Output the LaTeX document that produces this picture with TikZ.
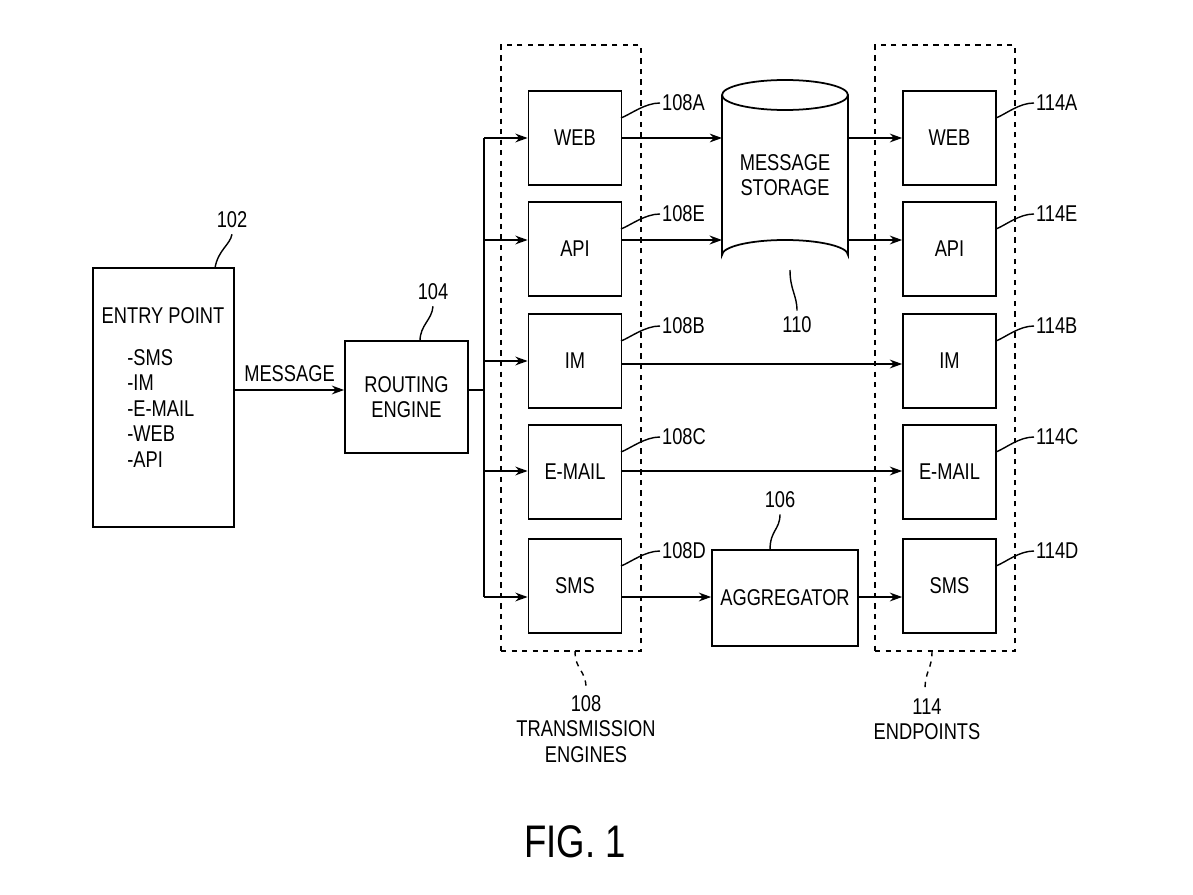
\documentclass[tikz,border=0pt]{standalone}
\usepackage{fontspec}
\setmainfont{Liberation Sans}[FakeStretch=0.8]
\usetikzlibrary{arrows.meta}
\begin{document}
\begin{tikzpicture}[x=0.02cm,y=-0.02cm,
  every node/.style={font=\fontsize{13}{14.5}\selectfont},
  box/.style={draw,line width=1pt,minimum width=1.86cm,minimum height=1.88cm,inner sep=0},
  arr/.style={-{Stealth[length=7pt,width=5pt]},line width=0.8pt},
  dbox/.style={draw,dashed,line width=0.8pt,minimum width=2.8cm,minimum height=12.12cm,inner sep=0},
  lead/.style={line width=0.8pt}]
\useasboundingbox (0,0) rectangle (1193,895);
% entry
\node[draw,line width=1pt,minimum width=2.82cm,minimum height=5.18cm] (entry) at (163.5,397.5) {};
\node (entryT) at (163,316) {ENTRY POINT};
\node[anchor=north west,align=left,inner sep=0] (list) at (127,349) {-SMS\\-IM\\-E-MAIL\\-WEB\\-API};
\node (l102) at (232,220) {102};
\coordinate (c102) at (215,268);
\draw[lead] (l102.south) .. controls (230,245) and (218,250) .. (c102);
% routing
\node[draw,line width=1pt,minimum width=2.46cm,minimum height=2.24cm,align=center] (route) at (406.5,397) {ROUTING\\ENGINE};
\node (l104) at (433,292) {104};
\coordinate (c104) at (420,341);
\draw[lead] (l104.south) .. controls (432,320) and (420,325) .. (c104);
\draw[arr] (entry.east |- 0,390) -- node[above=1pt] {MESSAGE} (route.west |- 0,390);
% dashed boxes
\node[dbox] (d108) at (571,348) {};
\node[dbox] (d114) at (945,348) {};
% transmission boxes
\foreach \n/\t/\y/\l in {tw/WEB/138/108A,ta/API/249/108E,ti/IM/361/108B,te/E-MAIL/472/108C,ts/SMS/586/108D}{
  \node[box] (\n) at (575,\y) {\t};
  \node[anchor=west,inner sep=1pt] (L\n) at (660,\y-35) {\l};
  \coordinate (C\n) at (621,\y-20);
  \draw[lead] (L\n.west) .. controls +(-15,0) and +(10,-4) .. (C\n);
}
\foreach \n/\t/\y/\l in {ew/WEB/138/114A,ea/API/249/114E,ei/IM/361/114B,ee/E-MAIL/472/114C,es/SMS/586/114D}{
  \node[box] (\n) at (949.5,\y) {\t};
  \node[anchor=west,inner sep=1pt] (L\n) at (1034,\y-35) {\l};
  \coordinate (C\n) at (996,\y-20);
  \draw[lead] (L\n.west) .. controls +(-15,0) and +(10,-4) .. (C\n);
}
% bus
\coordinate (bus) at (484,390);
\draw[line width=0.8pt] (route.east |- bus) -- (bus);
\draw[line width=0.8pt] (484,138) -- (484,597);
\draw[arr] (484,138) -- (tw.west |- 0,138);
\draw[arr] (484,240) -- (ta.west |- 0,240);
\draw[arr] (484,361) -- (ti.west |- 0,361);
\draw[arr] (484,471) -- (te.west |- 0,471);
\draw[arr] (484,597) -- (ts.west |- 0,597);
% storage
\node[minimum width=2.52cm,minimum height=3.8cm,align=center,inner sep=0] (stor) at (785,175) {MESSAGE\\STORAGE};
\draw[line width=1pt] (722,95) arc[start angle=180,end angle=360,x radius=63,y radius=-15]
  arc[start angle=0,end angle=180,x radius=63,y radius=-15] -- (722,255)
  arc[start angle=180,end angle=360,x radius=63,y radius=15] -- (848,95);
\node (l110) at (797,325) {110};
\draw[lead] (l110.north) .. controls (797,295) and (790,290) .. (790,270);
\draw[arr] (tw.east |- 0,138) -- (722,138);
\draw[arr,line width=1.3pt] (ta.east |- 0,240) -- (722,240);
\draw[arr] (848,138) -- (ew.west |- 0,138);
\draw[arr] (848,240) -- (ea.west |- 0,240);
\draw[arr] (ti.east |- 0,364) -- (ei.west |- 0,364);
\draw[arr] (te.east |- 0,471) -- (ee.west |- 0,471);
% aggregator
\node[draw,line width=1pt,minimum width=2.92cm,minimum height=1.92cm] (agg) at (785,598) {AGGREGATOR};
\node (l106) at (780,500) {106};
\draw[lead] (l106.south) .. controls (780,530) and (770,530) .. (770,550);
\draw[arr] (ts.east |- 0,597) -- (agg.west |- 0,597);
\draw[arr] (agg.east |- 0,597) -- (es.west |- 0,597);
% bottom labels
\node[align=center,inner sep=0] (b108) at (586,729) {108\\TRANSMISSION\\ENGINES};
\draw[dashed,lead] (575,651) .. controls (575,670) and (586,670) .. (586,688);
\node[align=center,inner sep=0] (b114) at (927,719) {114\\ENDPOINTS};
\draw[dashed,lead] (932,651) .. controls (932,670) and (925,670) .. (925,690);
\node[font=\fontsize{26}{30}\selectfont] (fig) at (575,842) {FIG. 1};
\end{tikzpicture}
\end{document}
